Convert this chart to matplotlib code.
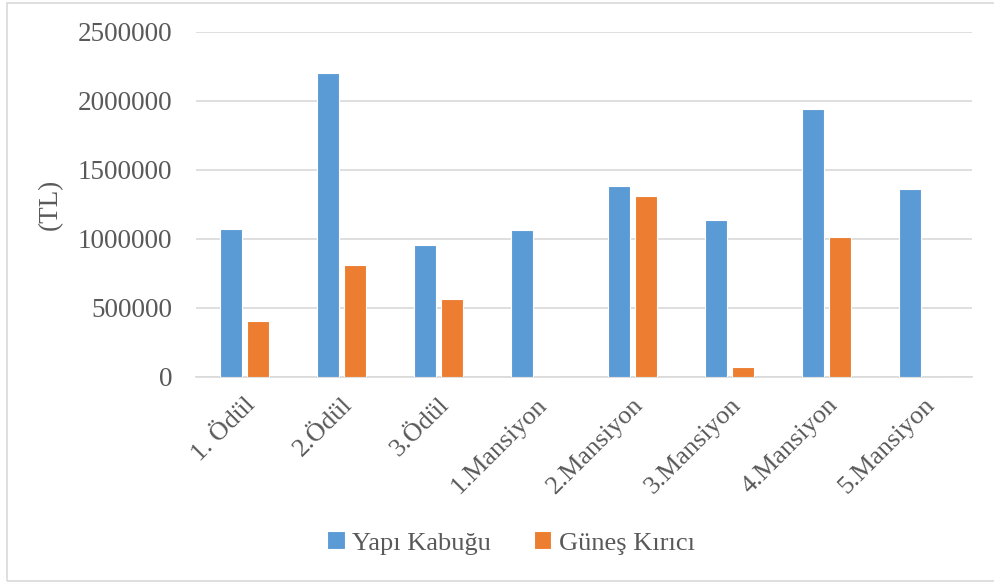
import numpy as np
from matplotlib import pyplot as plt
from matplotlib.patches import Rectangle

categories = ["1. Ödül", "2.Ödül", "3.Ödül", "1.Mansiyon", "2.Mansiyon",
              "3.Mansiyon", "4.Mansiyon", "5.Mansiyon"]
yapi_kabugu = [1072000, 2198000, 954000, 1065000, 1380000, 1140000, 1938000, 1360000]
gunes_kirici = [404000, 809000, 563000, 0, 1309000, 72000, 1010000, 0]

plt.rcParams["font.family"] = ["Liberation Serif", "DejaVu Serif"]
text_color = "#595959"

fig = plt.figure(figsize=(9.95, 5.83), dpi=100)
ax = fig.add_axes([196 / 995, 1 - 377 / 583, (972 - 196) / 995, (377 - 31.7) / 583])

x = np.arange(len(categories))
w = 0.227
ax.bar(x - 0.144, yapi_kabugu, w, color="#5B9BD5", edgecolor="white", linewidth=0.8,
       label="Yapı Kabuğu", zorder=3)
ax.bar(x + 0.144, gunes_kirici, w, color="#ED7D31", edgecolor="white", linewidth=0.8,
       label="Güneş Kırıcı", zorder=3)

ax.set_xlim(-0.5, len(categories) - 0.5)
ax.set_ylim(0, 2500000)
ax.set_yticks(np.arange(0, 2500001, 500000))
ax.set_yticklabels([str(v) for v in range(0, 2500001, 500000)])
ax.grid(axis="y", color="#D9D9D9", linewidth=1.2, zorder=0)
for s in ["top", "right", "left"]:
    ax.spines[s].set_visible(False)
ax.spines["bottom"].set_color("#D9D9D9")
ax.spines["bottom"].set_linewidth(1.2)
ax.tick_params(axis="y", length=0, pad=17, labelsize=19.5, labelcolor=text_color)
ax.tick_params(axis="x", length=0, pad=12, labelsize=19, labelcolor=text_color)
ax.set_xticks(x)
ax.set_xticklabels(categories, rotation=45, ha="right", rotation_mode="anchor")
ax.set_ylabel("(TL)", fontsize=19.5, color=text_color, labelpad=11)

leg = fig.legend(loc="center", bbox_to_anchor=(511 / 995, 1 - 543 / 583), ncol=2,
                 frameon=False, fontsize=19, handlelength=0.65, handleheight=0.65,
                 handletextpad=0.3, columnspacing=1.6)
for t in leg.get_texts():
    t.set_color(text_color)

fig.patches.append(Rectangle((7 / 995, 2 / 583), 1.2, 1 - 5 / 583, transform=fig.transFigure,
                             fill=False, edgecolor="#D9D9D9", linewidth=1.2))

fig.savefig("out.png", dpi=100)
